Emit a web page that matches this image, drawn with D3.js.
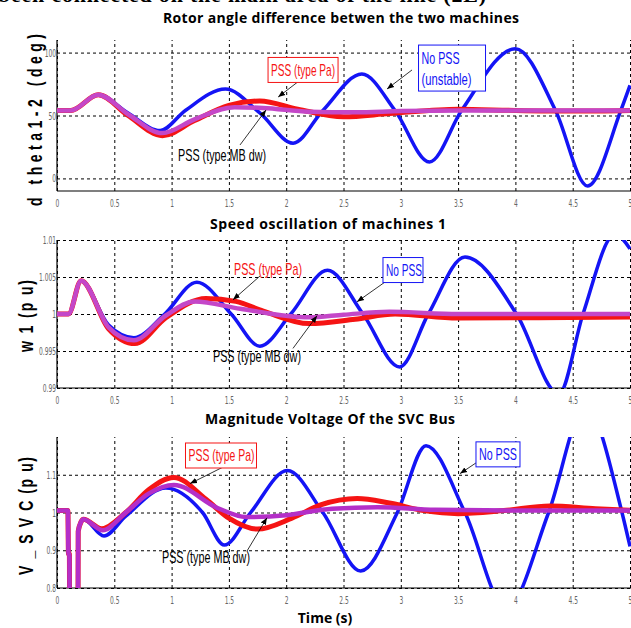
<!DOCTYPE html>
<html>
<head>
<meta charset="utf-8">
<script src="https://cdn.jsdelivr.net/npm/d3@7"></script>
<style>
  body { margin: 0; background: #fff; }
  .tick text { font-family: 'Liberation Sans Narrow', 'DejaVu Sans Condensed', sans-serif; fill: #666; }
</style>
</head>
<body>
<div id="vis"></div>
<script>
const FRAME_WIDTH = 631;
const FRAME_HEIGHT = 628;

// time axis (s)
const timeTicks = [0, 0.5, 1, 1.5, 2, 2.5, 3, 3.5, 4, 4.5, 5];

// panel 1 : rotor angle difference (deg)  [t, value]
const rotorTicks = [0, 50, 100];
const rotorNoPss = [[0,54],[0.12,54],[0.36,66.5],[0.62,52],[0.9,38],[1.12,54],[1.47,71],[1.77,52],[2.06,28],
  [2.32,54],[2.66,83],[2.95,54],[3.25,13],[3.53,54],[4.0,103],[4.35,54],[4.63,-6],[4.92,54],[5.0,74]];
const rotorPa = [[0,54],[0.12,54],[0.36,66.5],[0.62,50],[0.92,34],[1.2,46],[1.5,58],[1.77,61.5],[2.1,55],
  [2.5,49],[2.9,51.5],[3.5,55],[4.0,54],[4.5,53.5],[5.0,54]];
const rotorMb = [[0,54],[0.12,54],[0.36,66.5],[0.62,51],[0.92,36],[1.2,47],[1.55,56.5],[1.8,56],[2.2,53],
  [2.6,52.5],[3.0,53.5],[3.5,54],[4.0,54],[5.0,54]];

// panel 2 : speed of machine 1 (pu)
const speedTicks = [0.99, 0.995, 1, 1.005, 1.01];
const speedNoPss = [[0,1],[0.1,1],[0.21,1.0045],[0.45,0.9985],[0.67,0.9968],[0.94,1.0],[1.22,1.0043],[1.52,1.0],
  [1.77,0.99565],[2.04,1.0],[2.36,1.0059],[2.67,1.0],[2.99,0.99285],[3.24,1.0],[3.56,1.0077],[4.01,1.0],
  [4.38,0.9892],[4.59,1.0],[4.87,1.0108],[5.0,1.0088]];
const speedPa = [[0,1],[0.1,1],[0.21,1.0045],[0.45,0.998],[0.68,0.9960],[0.95,0.9995],[1.3,1.0021],[1.56,1.0017],
  [1.8,1.0004],[2.2,0.9987],[2.6,0.9993],[2.95,1.0],[3.5,0.99945],[4.2,0.9995],[5.0,0.9996]];
const speedMb = [[0,1],[0.1,1],[0.21,1.0045],[0.45,0.9982],[0.67,0.99645],[0.95,0.9998],[1.2,1.0017],[1.6,1.0007],
  [2.2,0.99955],[2.5,0.9999],[2.9,1.0003],[3.5,1.0],[5.0,1.0]];

// panel 3 : SVC bus voltage (pu)
const vsvcTicks = [0.8, 0.9, 1, 1.1];
const vsvcFault = [[0,1.005],[0.095,1.005],[0.1,0.89],[0.108,0.89],[0.113,0.3],[0.18,0.3],[0.185,0.95],[0.21,0.975],[0.23,0.982]];
const vsvcNoPss = vsvcFault.concat([[0.41,0.938],[0.6,0.99],[0.95,1.065],[1.27,1.0],[1.46,0.914],[1.69,1.0],[2.01,1.111],
  [2.32,1.0],[2.65,0.845],[2.97,1.0],[3.22,1.177],[3.56,1.0],[3.92,0.745],[4.29,1.0],[4.61,1.28],[4.93,1.0],[5.0,0.91]]);
const vsvcPa = vsvcFault.concat([[0.39,0.957],[0.6,1.0],[0.8,1.06],[1.02,1.093],[1.3,1.035],[1.5,0.985],[1.75,0.956],
  [2.05,0.985],[2.3,1.02],[2.62,1.037],[2.9,1.025],[3.2,1.005],[3.5,0.997],[3.9,1.005],[4.3,1.017],[4.7,1.01],[5.0,1.006]]);
const vsvcMb = vsvcFault.concat([[0.4,0.953],[0.6,1.0],[0.8,1.05],[1.02,1.073],[1.4,1.012],[1.65,0.988],[2.0,0.993],
  [2.4,1.01],[2.8,1.014],[3.3,1.007],[4.0,1.005],[5.0,1.005]]);

const BLUE = '#1414f5', RED = '#f51414', MAGENTA = '#c447c8';

const panels = [
  {
    title: 'Rotor angle difference betwen the two machines', titleX: 341, titleY: 23, titleLen: 356,
    ylabel: 'd theta1-2 (deg)', ylabelX: 42, ylabelY: 120, ylabelLen: 172,
    top: 40, bottom: 191, yDomain: [-10, 110], yTicks: rotorTicks,
    series: [[rotorNoPss, BLUE, 3.5], [rotorPa, RED, 5], [rotorMb, MAGENTA, 4.5]],
    notes: [
      {lines: ['PSS (type Pa)'], lens: [64], boxW: 70, color: RED, box: true, at: [2.147, 86.2], tail: [2.10, 76.6], tip: [1.93, 64.7]},
      {lines: ['No PSS', '(unstable)'], lens: [38, 50], boxW: 67, color: BLUE, box: true, at: [3.447, 87.7], tail: [3.098, 86.2], tip: [2.88, 71.1]},
      {lines: ['PSS (type:MB dw)'], lens: [88], color: '#000', box: false, at: [1.44, 18.6], tail: [1.597, 26.6], tip: [1.824, 54.4]}
    ]
  },
  {
    title: 'Speed oscillation of machines 1', titleX: 328, titleY: 229, titleLen: 236,
    ylabel: 'w 1 (p u)', ylabelX: 33, ylabelY: 316, ylabelLen: 72,
    top: 240, bottom: 388, yDomain: [0.99, 1.01], yTicks: speedTicks,
    series: [[speedNoPss, BLUE, 3.5], [speedPa, RED, 5], [speedMb, MAGENTA, 4.5]],
    notes: [
      {lines: ['PSS (type Pa)'], lens: [68], color: RED, box: false, at: [1.841, 1.00607], tail: [1.771, 1.00513], tip: [1.536, 1.00192]},
      {lines: ['No PSS'], lens: [36], boxW: 40, color: BLUE, box: true, at: [3.019, 1.00594], tail: [2.888, 1.0046], tip: [2.618, 1.00165]},
      {lines: ['PSS (type MB dw)'], lens: [88], color: '#000', box: false, at: [1.745, 0.99428], tail: [2.059, 0.99535], tip: [2.269, 0.99977]}
    ]
  },
  {
    title: 'Magnitude Voltage Of the SVC Bus', titleX: 330, titleY: 424, titleLen: 250,
    ylabel: 'V _ S V C (p u)', ylabelX: 33, ylabelY: 516, ylabelLen: 118,
    top: 437, bottom: 588, yDomain: [0.8, 1.2], yTicks: vsvcTicks,
    series: [[vsvcNoPss, BLUE, 3.5], [vsvcPa, RED, 5], [vsvcMb, '#b42fc8', 4.5]],
    notes: [
      {lines: ['PSS (type Pa)'], lens: [66], boxW: 71, color: RED, box: true, at: [1.431, 1.151], tail: [1.44, 1.119], tip: [1.161, 1.0765]},
      {lines: ['No PSS'], lens: [38], boxW: 44, color: BLUE, box: true, at: [3.848, 1.154], tail: [3.674, 1.135], tip: [3.517, 1.103]},
      {lines: ['PSS (type MB dw)'], lens: [88], color: '#000', box: false, at: [1.30, 0.882], tail: [1.658, 0.898], tip: [1.832, 0.986]}
    ]
  }
];

const svg = d3.select('#vis')
  .append('svg')
    .attr('width', FRAME_WIDTH)
    .attr('height', FRAME_HEIGHT);

svg.append('defs').append('marker')
    .attr('id', 'arrow')
    .attr('viewBox', '0 0 10 10')
    .attr('refX', 10).attr('refY', 5)
    .attr('markerWidth', 7).attr('markerHeight', 7)
    .attr('markerUnits', 'userSpaceOnUse')
    .attr('orient', 'auto')
  .append('path')
    .attr('d', 'M0,1 L10,5 L0,9 Z')
    .attr('fill', '#000');

// caption line of the page above, cut by the top edge as in the scan
svg.append('text')
    .attr('x', -2).attr('y', 2)
    .attr('textLength', 488)
    .attr('font-family', 'Liberation Serif, serif')
    .attr('font-weight', 'bold')
    .attr('font-size', 22)
    .text('been connected on the main area of the line (2L)');

const X_SCALE = d3.scaleLinear().domain([0, 5]).range([57, 630]);

panels.forEach((p, i) => {
  const Y_SCALE = d3.scaleLinear().domain(p.yDomain).range([p.bottom, p.top]);
  const g = svg.append('g');

  // title
  g.append('text')
      .attr('x', p.titleX).attr('y', p.titleY)
      .attr('text-anchor', 'middle')
      .attr('textLength', p.titleLen)
      .attr('font-family', 'Open Sans, sans-serif')
      .attr('font-weight', 'bold')
      .attr('font-size', 14)
      .text(p.title);

  // y label, tall narrow letters
  g.append('text')
      .attr('transform', 'translate(' + p.ylabelX + ',' + p.ylabelY + ') rotate(-90) scale(1,1.5)')
      .attr('text-anchor', 'middle')
      .attr('textLength', p.ylabelLen)
      .attr('lengthAdjust', 'spacing')
      .attr('font-family', 'Liberation Sans Narrow, sans-serif')
      .attr('font-weight', 'bold')
      .attr('font-size', 14)
      .text(p.ylabel);

  // x grid + axis
  const xAxis = g.append('g')
      .attr('transform', 'translate(0,' + p.bottom + ')')
      .call(d3.axisBottom(X_SCALE).tickValues(timeTicks).tickSize(-(p.bottom - p.top))
            .tickSizeOuter(0).tickPadding(8).tickFormat(d3.format('')));
  // y grid + axis
  const yAxis = g.append('g')
      .attr('transform', 'translate(57,0)')
      .call(d3.axisLeft(Y_SCALE).tickValues(p.yTicks).tickSize(-(630 - 57))
            .tickSizeOuter(0).tickPadding(5).tickFormat(d3.format('')));

  [xAxis, yAxis].forEach(a => {
    a.selectAll('.tick line').attr('stroke', '#000').attr('stroke-dasharray', '3,3').attr('stroke-width', 1);
    a.selectAll('.tick text').attr('font-size', 11).attr('transform', 'scale(0.6,1)');
    a.select('.domain').remove();
  });
  yAxis.selectAll('.tick text').attr('transform', 'translate(2,0) scale(0.6,1)');

  // solid left + bottom frame
  g.append('line').attr('x1', 57).attr('x2', 57).attr('y1', p.top).attr('y2', p.bottom)
      .attr('stroke', '#000').attr('stroke-width', 1.2);
  g.append('line').attr('x1', 57).attr('x2', 631).attr('y1', p.bottom).attr('y2', p.bottom)
      .attr('stroke', '#000').attr('stroke-width', 1.2);

  // clip
  g.append('clipPath').attr('id', 'clip' + i)
    .append('rect').attr('x', 57).attr('y', p.top).attr('width', 631 - 57).attr('height', p.bottom - p.top);

  const line = d3.line()
      .x(d => X_SCALE(d[0]))
      .y(d => Y_SCALE(d[1]))
      .curve(d3.curveMonotoneX);

  g.append('g').attr('clip-path', 'url(#clip' + i + ')')
    .selectAll('path')
    .data(p.series)
    .enter()
    .append('path')
      .attr('d', d => line(d[0]))
      .attr('fill', 'none')
      .attr('stroke', d => d[1])
      .attr('stroke-width', d => d[2])
      .attr('stroke-linejoin', 'round');

  // annotations
  p.notes.forEach(n => {
    g.append('line')
        .attr('x1', X_SCALE(n.tail[0])).attr('y1', Y_SCALE(n.tail[1]))
        .attr('x2', X_SCALE(n.tip[0])).attr('y2', Y_SCALE(n.tip[1]))
        .attr('stroke', '#000').attr('stroke-width', 0.8)
        .attr('marker-end', 'url(#arrow)');
    const cx = X_SCALE(n.at[0]), cy = Y_SCALE(n.at[1]);
    const lh = 21;
    const y0 = cy - (n.lines.length - 1) * lh / 2;
    const w = n.box ? n.boxW : n.lens[0];
    const left = cx - w / 2;
    if (n.box) {
      const h = n.lines.length * lh + 4;
      g.append('rect')
          .attr('x', left).attr('y', cy - h / 2)
          .attr('width', w).attr('height', h)
          .attr('fill', '#fff').attr('stroke', n.color).attr('stroke-width', 1);
    }
    n.lines.forEach((t, k) => {
      g.append('text')
          .attr('x', n.box ? left + 3 : left).attr('y', y0 + k * lh + 6)
          .attr('textLength', n.lens[k])
          .attr('lengthAdjust', 'spacingAndGlyphs')
          .attr('font-family', 'Liberation Sans Narrow, sans-serif')
          .attr('font-size', 17)
          .attr('fill', n.color)
          .text(t);
    });
  });
});

// x axis title
svg.append('text')
    .attr('x', 325).attr('y', 623)
    .attr('text-anchor', 'middle')
    .attr('font-family', 'Open Sans, sans-serif')
    .attr('font-weight', 'bold')
    .attr('font-size', 14)
    .text('Time (s)');
</script>
</body>
</html>
